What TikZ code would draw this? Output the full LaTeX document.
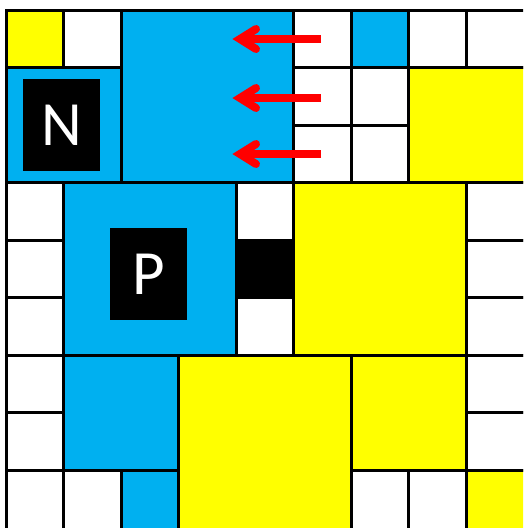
\documentclass[tikz,border=0pt]{standalone}
\usepackage{fontspec}
\newfontfamily\labfont{Carlito}
\definecolor{tblue}{RGB}{0,176,240}
\definecolor{tyellow}{RGB}{255,255,0}
\definecolor{tred}{RGB}{255,0,0}
\newcommand\tile[5]{\draw[tileline, fill=#5] ({6+57.5*#1},{10+57.5*#2}) rectangle ({6+57.5*(#1+#3)+6*((#1+#3)==9)},{10+57.5*(#2+#4)+6*((#2+#4)==9)});}
\begin{document}
\begin{tikzpicture}[x=1pt,y=-1pt,
  tileline/.style={draw=black, line width=3pt},
  letterbox/.style={fill=black, text=white, minimum width=77pt, minimum height=92pt, inner sep=0pt, font=\labfont\fontsize{63}{63}\selectfont},
  shaft/.style={draw=tred, line width=8pt, line cap=butt},
  barb/.style={draw=tred, line width=8pt, line cap=round, line join=miter}]
\useasboundingbox (0,0) rectangle (523,528);
\fill[white] (0,0) rectangle (523,528);
\begin{scope}
\clip (0,0) rectangle (523,528);
% row 0
\tile{0}{0}{1}{1}{tyellow}
\tile{1}{0}{1}{1}{white}
\tile{2}{0}{3}{3}{tblue}
\tile{5}{0}{1}{1}{white}
\tile{6}{0}{1}{1}{tblue}
\tile{7}{0}{1}{1}{white}
\tile{8}{0}{1}{1}{white}
% rows 1-2
\tile{0}{1}{2}{2}{tblue}
\tile{5}{1}{1}{1}{white}
\tile{6}{1}{1}{1}{white}
\tile{5}{2}{1}{1}{white}
\tile{6}{2}{1}{1}{white}
\tile{7}{1}{2}{2}{tyellow}
% rows 3-5
\tile{0}{3}{1}{1}{white}
\tile{0}{4}{1}{1}{white}
\tile{0}{5}{1}{1}{white}
\tile{1}{3}{3}{3}{tblue}
\tile{4}{3}{1}{1}{white}
\tile{4}{4}{1}{1}{black}
\tile{4}{5}{1}{1}{white}
\tile{5}{3}{3}{3}{tyellow}
\tile{8}{3}{1}{1}{white}
\tile{8}{4}{1}{1}{white}
\tile{8}{5}{1}{1}{white}
% rows 6-8
\tile{0}{6}{1}{1}{white}
\tile{0}{7}{1}{1}{white}
\tile{0}{8}{1}{1}{white}
\tile{1}{6}{2}{2}{tblue}
\tile{3}{6}{3}{3}{tyellow}
\tile{6}{6}{2}{2}{tyellow}
\tile{8}{6}{1}{1}{white}
\tile{8}{7}{1}{1}{white}
\tile{8}{8}{1}{1}{tyellow}
\tile{1}{8}{1}{1}{white}
\tile{2}{8}{1}{1}{tblue}
\tile{6}{8}{1}{1}{white}
\tile{7}{8}{1}{1}{white}
\end{scope}
% letter boxes
\node[letterbox] (N) at (61.5,125) {N};
\node[letterbox] (P) at (148.5,274) {P};
% arrows
\foreach \i/\yy in {1/39,2/98,3/154}{
  \coordinate (s\i) at (321,\yy);
  \coordinate (t\i) at (240,\yy);
  \coordinate (u\i) at (256,\yy-10);
  \coordinate (d\i) at (256,\yy+10);
  \draw[shaft] (s\i) -- (t\i);
  \draw[barb] (u\i) -- (t\i) -- (d\i);
}
\end{tikzpicture}
\end{document}
